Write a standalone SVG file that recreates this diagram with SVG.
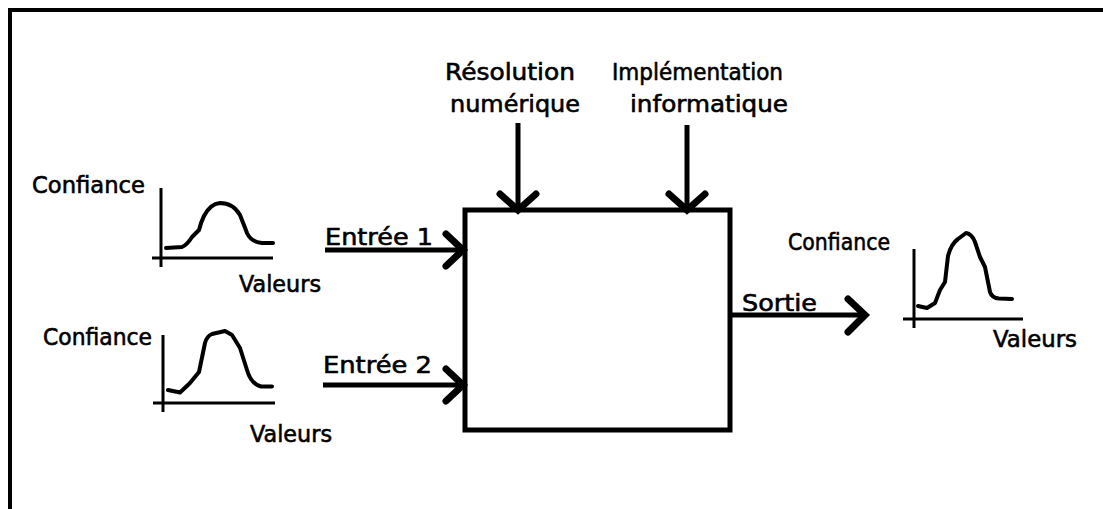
<svg xmlns="http://www.w3.org/2000/svg" width="1103" height="509" viewBox="0 0 1103 509">
<style>
text{font-family:"DejaVu Sans","Liberation Sans",sans-serif;font-size:23px;fill:#000;stroke:#000;stroke-width:0.6}
.ax{stroke:#000;stroke-width:3;fill:none}
.cv{stroke:#000;stroke-width:4;fill:none;stroke-linejoin:round;stroke-linecap:round}
.ln{stroke:#000;stroke-width:5;fill:none}
.hd{stroke:#000;stroke-width:7;fill:none;stroke-linecap:round;stroke-linejoin:miter}
</style>
<rect x="0" y="0" width="1103" height="509" fill="#fff"/>
<g id="frame">
<path d="M10 509 V10 H1103" stroke="#000" stroke-width="4" fill="none"/>
</g>
<g id="process">
<rect x="465" y="210" width="265" height="220" fill="#fff" stroke="#000" stroke-width="5"/>
</g>
<g id="connectors">
<line class="ln" x1="518" y1="123" x2="518" y2="210"/>
<path class="hd" d="M500 194 L518 210 L536 194"/>
<line class="ln" x1="687" y1="125" x2="687" y2="210"/>
<path class="hd" d="M669 194 L687 210 L705 194"/>
<line class="ln" x1="325" y1="250" x2="463" y2="250"/>
<path class="hd" d="M446 234 L463 250 L446 266"/>
<line class="ln" x1="323" y1="385" x2="463" y2="385"/>
<path class="hd" d="M446 369 L463 385 L446 401"/>
<line class="ln" x1="730" y1="315" x2="864" y2="315"/>
<path class="hd" d="M848 299 L865 315 L848 332"/>
</g>
<g id="label-resolution">
<text x="445" y="80" textLength="130" lengthAdjust="spacingAndGlyphs">Résolution</text>
<text x="450" y="112" textLength="130" lengthAdjust="spacingAndGlyphs">numérique</text>
</g>
<g id="label-implementation">
<text x="612" y="80" textLength="171" lengthAdjust="spacingAndGlyphs">Implémentation</text>
<text x="630" y="112" textLength="158" lengthAdjust="spacingAndGlyphs">informatique</text>
</g>
<g id="label-entree1"><text x="325" y="245" textLength="108" lengthAdjust="spacingAndGlyphs">Entrée 1</text></g>
<g id="label-entree2"><text x="323" y="373" textLength="109" lengthAdjust="spacingAndGlyphs">Entrée 2</text></g>
<g id="label-sortie"><text x="742" y="311" textLength="75" lengthAdjust="spacingAndGlyphs">Sortie</text></g>
<g id="graph-1">
<text x="32" y="193" textLength="113" lengthAdjust="spacingAndGlyphs">Confiance</text>
<line class="ax" x1="161" y1="188" x2="161" y2="267"/>
<line class="ax" x1="152" y1="258" x2="273" y2="258"/>
<path class="cv" d="M166 248 L182 247 Q187 245 192 237 L199 230 Q201 222 204 216 Q210 204 220 203 Q233 203 240 215 Q244 225 247 233 Q251 242 262 243 L273 243"/>
<text x="239" y="292" textLength="82" lengthAdjust="spacingAndGlyphs">Valeurs</text>
</g>
<g id="graph-2">
<text x="43" y="345" textLength="109" lengthAdjust="spacingAndGlyphs">Confiance</text>
<line class="ax" x1="163" y1="335" x2="163" y2="412"/>
<line class="ax" x1="153" y1="403" x2="275" y2="403"/>
<path class="cv" d="M168 390 L180 392.5 L190 383 L199 372 L205 343 Q207 336 212 334 L225 331 L232 335 L240 348 L247 370 Q251 384 261 386.5 L272 386.5"/>
<text x="250" y="442" textLength="82" lengthAdjust="spacingAndGlyphs">Valeurs</text>
</g>
<g id="graph-3">
<text x="788" y="250" textLength="102" lengthAdjust="spacingAndGlyphs">Confiance</text>
<line class="ax" x1="914" y1="249" x2="914" y2="328"/>
<line class="ax" x1="903" y1="319" x2="1023" y2="319"/>
<path class="cv" d="M918 306 L927 308 L935 303 L940 290 L945 282 L948 256 Q951 244 958 239 L966 233 Q972 234 975 242 L980 257 L985 267 L990 292 Q992 298 999 298.5 L1012 299"/>
<text x="993" y="347" textLength="84" lengthAdjust="spacingAndGlyphs">Valeurs</text>
</g>
</svg>
